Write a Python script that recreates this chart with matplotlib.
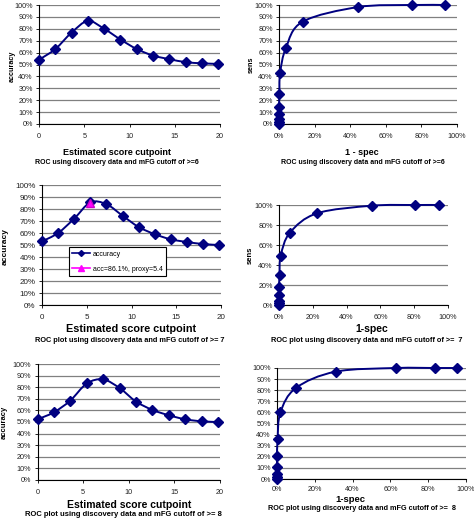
import numpy as np
import matplotlib
matplotlib.use("Agg")
import matplotlib.pyplot as plt
from matplotlib.path import Path
from matplotlib.patches import PathPatch
from matplotlib.lines import Line2D
from matplotlib.ticker import FuncFormatter

plt.rcParams['font.family'] = ['Liberation Sans', 'DejaVu Sans']

# ---------------- data ----------------
cutpoints = [0, 1.8, 3.6, 5.4, 7.2, 9.0, 10.8, 12.6, 14.4, 16.2, 18.0, 19.8]

acc_6 = [54, 63, 76.8, 86.6, 80, 71, 63, 57.5, 54.5, 52, 51, 50.5]
acc_7 = [53, 60, 72, 85.5, 84, 74.4, 65, 59, 54.7, 52.5, 50.8, 50]
acc_8 = [52.3, 58.4, 68.5, 83.2, 86.7, 79.2, 67.6, 60.4, 55.8, 52.3, 50.6, 50]

best_acc_7 = [85]
best_proxy_7 = [5.4]

fpr_6 = [0, 0, 0, 0, 0, 0.2, 0.6, 3.9, 13.3, 44.6, 74.5, 93.4]
sens_6 = [0, 1.5, 4, 8.5, 14.5, 25, 42.5, 64, 86, 98.3, 100, 100]

fpr_7 = [0, 0, 0, 0, 0, 0.3, 1.0, 6.5, 22.5, 55, 80.5, 94.6]
sens_7 = [0, 2.3, 4, 9.6, 17.6, 29.6, 49.2, 72.4, 91.7, 99.3, 100, 100]

fpr_8 = [0, 0, 0, 0, 0, 0.3, 1.8, 10, 31, 63, 83.7, 95.4]
sens_8 = [0, 1.5, 4.8, 11.2, 20.5, 35.6, 60, 82, 96.7, 100, 100, 100]

acc_ticks = [0, 10, 20, 30, 40, 50, 60, 70, 80, 90, 100]
roc_ticks_10 = [0, 10, 20, 30, 40, 50, 60, 70, 80, 90, 100]
roc_ticks_20 = [0, 20, 40, 60, 80, 100]
roc_xticks = [0, 20, 40, 60, 80, 100]
cut_xticks = [0, 5, 10, 15, 20]

captions = ["ROC using discovery data and mFG cutoff of >=6",
            "ROC using discovery data and mFG cutoff of >=6",
            "ROC plot using discovery data and mFG cutoff of >= 7",
            "ROC plot using discovery data and mFG cutoff of >=  7",
            "ROC plot using discovery data and mFG cutoff of >= 8",
            "ROC plot using discovery data and mFG cutoff of >=  8"]

# ---------------- figure ----------------
W, H = 474, 520
fig = plt.figure(figsize=(W / 100, H / 100), dpi=100)
NAVY = '#000080'
GRID = '#808080'


def add_axes_px(l, r, t, b):
    return fig.add_axes([l / W, 1 - b / H, (r - l) / W, (b - t) / H])


def smooth_path(ax, x, y):
    # Excel-like smoothed line: Catmull-Rom segments as cubic Beziers
    x = np.asarray(x, float)
    y = np.asarray(y, float)
    n = len(x)
    verts = [(x[0], y[0])]
    codes = [Path.MOVETO]
    for i in range(n - 1):
        p0 = np.array([x[max(i - 1, 0)], y[max(i - 1, 0)]])
        p1 = np.array([x[i], y[i]])
        p2 = np.array([x[i + 1], y[i + 1]])
        p3 = np.array([x[min(i + 2, n - 1)], y[min(i + 2, n - 1)]])
        c1 = p1 + (p2 - p0) / 6.0
        c2 = p2 - (p3 - p1) / 6.0
        verts += [tuple(c1), tuple(c2), tuple(p2)]
        codes += [Path.CURVE4] * 3
    ax.add_patch(PathPatch(Path(verts, codes), fill=False, edgecolor=NAVY,
                           lw=1.4, zorder=3, clip_on=False))


def markers(ax, x, y, ms=4.6):
    ax.plot(x, y, ls='none', marker='D', ms=ms, color=NAVY, zorder=4,
            clip_on=False)


def style(ax, yticks, xticks, xlim, tick_fs, pct_x, xpad=4):
    ax.set_ylim(0, 100)
    ax.set_xlim(*xlim)
    ax.set_yticks(yticks)
    ax.set_xticks(xticks)
    ax.yaxis.set_major_formatter(FuncFormatter(lambda v, p: f"{int(round(v))}%"))
    if pct_x:
        ax.xaxis.set_major_formatter(FuncFormatter(lambda v, p: f"{int(round(v))}%"))
    for s in ['top', 'right']:
        ax.spines[s].set_visible(False)
    for s in ['left', 'bottom']:
        ax.spines[s].set_color('black')
        ax.spines[s].set_linewidth(0.8)
    ax.grid(axis='y', color=GRID, lw=0.9)
    ax.set_axisbelow(True)
    ax.tick_params(labelsize=tick_fs, length=2.5, width=0.6, colors='black',
                   labelcolor='#222222', pad=2)
    ax.tick_params(axis='x', pad=xpad)
    ax.set_facecolor('white')


def ftext(xp, yp, s, fs, **kw):
    fig.text(xp / W, 1 - yp / H, s, fontsize=fs, ha='center', va='center',
             fontweight='bold', **kw)


# Panel 1
ax1 = add_axes_px(39, 220, 5, 124)
style(ax1, acc_ticks, cut_xticks, (0, 20), 5.2, False)
smooth_path(ax1, cutpoints, acc_6)
markers(ax1, cutpoints, acc_6)
ftext(12, 66, "accuracy", 5.2, rotation=90)
ftext(117, 152, "Estimated score cutpoint", 6.5)
ftext(117, 163, captions[0], 5.0)

# Panel 2
ax2 = add_axes_px(279, 457, 5, 124)
style(ax2, roc_ticks_10, roc_xticks, (0, 100), 5.2, True)
smooth_path(ax2, fpr_6, sens_6)
markers(ax2, fpr_6, sens_6)
ftext(251, 65, "sens", 5.2, rotation=90)
ftext(362, 152, "1 - spec", 6.5)
ftext(363, 163, captions[1], 5.0)

# Panel 3
ax3 = add_axes_px(42, 221, 185, 305)
style(ax3, acc_ticks, cut_xticks, (0, 20), 5.8, False)
smooth_path(ax3, cutpoints, acc_7)
markers(ax3, cutpoints, acc_7)
ax3.plot(best_proxy_7, best_acc_7, ls='none', marker='^', ms=5.5,
         color='#FF00FF', markeredgecolor='#CC00CC', zorder=5)
h1 = Line2D([], [], color=NAVY, lw=1.2, marker='D', ms=3)
h2 = Line2D([], [], color='#FF00FF', lw=1.2, marker='^', ms=4)
leg = ax3.legend([h1, h2], ["accuracy", "acc=86.1%, proxy=5.4"],
                 loc='upper left', bbox_to_anchor=(0.15, 0.48),
                 fontsize=5.0, frameon=True, fancybox=False,
                 borderpad=0.45, labelspacing=1.2, handlelength=2.6,
                 handletextpad=0.4, borderaxespad=0)
leg.get_frame().set_edgecolor('black')
leg.get_frame().set_linewidth(0.8)
leg.get_frame().set_alpha(1)
ftext(5, 247, "accuracy", 6.0, rotation=90)
ftext(131, 329, "Estimated score cutpoint", 7.8)
ftext(130, 340, captions[2], 5.3)

# Panel 4
ax4 = add_axes_px(279, 448, 205, 305)
style(ax4, roc_ticks_20, roc_xticks, (0, 100), 5.2, True)
smooth_path(ax4, fpr_7, sens_7)
markers(ax4, fpr_7, sens_7)
ftext(250, 255, "sens", 5.5, rotation=90)
ftext(372, 329, "1-spec", 7.5)
ftext(367, 340, captions[3], 5.3)

# Panel 5
ax5 = add_axes_px(37.5, 220, 364, 480)
style(ax5, acc_ticks, cut_xticks, (0, 20), 5.2, False)
smooth_path(ax5, cutpoints, acc_8)
markers(ax5, cutpoints, acc_8)
ftext(4, 422, "accuracy", 5.5, rotation=90)
ftext(129, 505, "Estimated score cutpoint", 7.5)
ftext(123, 514, captions[4], 5.5)

# Panel 6
ax6 = add_axes_px(277, 466, 368, 479)
style(ax6, roc_ticks_10, roc_xticks, (0, 100), 5.2, True, xpad=2.5)
smooth_path(ax6, fpr_8, sens_8)
markers(ax6, fpr_8, sens_8)
ftext(350, 499, "1-spec", 6.8)
ftext(362, 508, captions[5], 5.2)

fig.savefig("out.png", dpi=100, facecolor='white')
